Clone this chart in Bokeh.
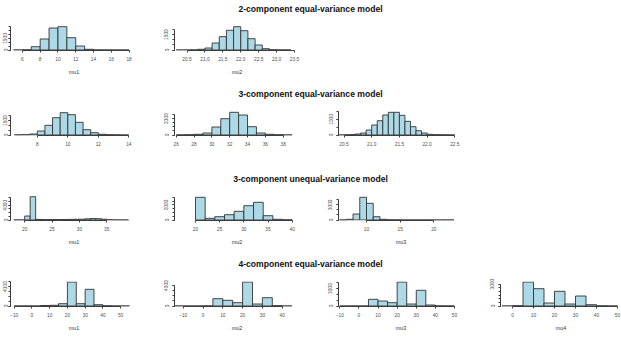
from bokeh.plotting import figure
from bokeh.models import FixedTicker, Label, Spacer, Range1d, PrintfTickFormatter
from bokeh.layouts import column, row
from bokeh.embed import file_html
from bokeh.resources import INLINE

# ---------------- data (bin edges and counts) ----------------
titles = ["2-component equal-variance model", "3-component equal-variance model",
          "3-component unequal-variance model", "4-component equal-variance model"]

r1_mu1_breaks = [5, 6, 7, 8, 9, 10, 11, 12, 13, 14, 15, 16, 17, 18]
r1_mu1_counts = [0, 26, 430, 1430, 2860, 3030, 1600, 520, 91, 13, 0, 0, 0]
r1_mu2_breaks = [20.2, 20.4, 20.6, 20.8, 21.0, 21.2, 21.4, 21.6, 21.8, 22.0, 22.2, 22.4, 22.6,
                 22.8, 23.0, 23.2, 23.4]
r1_mu2_counts = [0, 0, 10, 68, 194, 679, 1290, 1911, 2260, 1872, 1096, 485, 126, 29, 5, 0]

r2_mu1_breaks = [6.5, 7, 7.5, 8, 8.5, 9, 9.5, 10, 10.5, 11, 11.5, 12, 12.5, 13, 13.5, 14]
r2_mu1_counts = [10, 31, 104, 416, 1009, 1799, 2319, 2111, 1321, 551, 239, 73, 31, 10, 0]
r2_mu2_breaks = [26, 27, 28, 29, 30, 31, 32, 33, 34, 35, 36, 37, 38, 39]
r2_mu2_counts = [12, 37, 86, 246, 984, 2005, 2792, 2460, 1021, 246, 86, 25, 6]
r2_mu3_breaks = [20.4, 20.5, 20.6, 20.7, 20.8, 20.9, 21.0, 21.1, 21.2, 21.3, 21.4, 21.5, 21.6,
                 21.7, 21.8, 21.9, 22.0, 22.1, 22.2, 22.3, 22.4, 22.5]
r2_mu3_counts = [0, 13, 26, 64, 128, 320, 640, 915, 1280, 1453, 1453, 1261, 877, 531, 275, 128,
                 45, 19, 13, 6, 0]

r3_mu1_breaks = [18, 19, 20, 21, 22, 23, 24, 25, 26, 27, 28, 29, 30, 31, 32, 33, 34, 35, 36, 37,
                 38, 39]
r3_mu1_counts = [0, 27, 1080, 6291, 162, 108, 108, 108, 108, 135, 162, 189, 216, 324, 405, 351,
                 216, 81, 27, 0, 0]
r3_mu2_breaks = [20, 22, 24, 26, 28, 30, 32, 34, 36, 38, 40]
r3_mu2_counts = [3019, 226, 439, 705, 1157, 1902, 2354, 572, 93, 27]
r3_mu3_breaks = [6, 7, 8, 9, 10, 11, 12, 13, 14, 15, 16, 17, 18, 19, 20, 21, 22, 23]
r3_mu3_counts = [0, 139, 1188, 4495, 3307, 653, 139, 40, 20, 0, 0, 0, 0, 0, 0, 0, 0]

r4_mu1_breaks = [-10, -5, 0, 5, 10, 15, 20, 25, 30, 35, 40, 45, 50, 55]
r4_mu1_counts = [0, 0, 0, 104, 146, 478, 4992, 478, 3474, 270, 42, 0, 0]
r4_mu2_breaks = [-15, -10, -5, 0, 5, 10, 15, 20, 25, 30, 35, 40, 45]
r4_mu2_counts = [0, 0, 0, 20, 1431, 1117, 647, 4704, 392, 1627, 59, 0]
r4_mu3_breaks = [-10, -5, 0, 5, 10, 15, 20, 25, 30, 35, 40, 45, 50]
r4_mu3_counts = [0, 0, 0, 1159, 865, 571, 4152, 346, 2716, 173, 17, 0]
r4_mu4_breaks = [-5, 0, 5, 10, 15, 20, 25, 30, 35, 40, 45, 50]
r4_mu4_counts = [0, 41, 3288, 2370, 411, 2014, 274, 1370, 178, 27, 0]

# x tick values per panel
r1_mu1_xt = [6, 8, 10, 12, 14, 16, 18]
r1_mu2_xt = [20.5, 21.0, 21.5, 22.0, 22.5, 23.0, 23.5]
r2_mu1_xt = [8, 10, 12, 14]
r2_mu2_xt = [26, 28, 30, 32, 34, 36, 38]
r2_mu3_xt = [20.5, 21.0, 21.5, 22.0, 22.5]
r3_mu1_xt = [20, 25, 30, 35]
r3_mu2_xt = [20, 25, 30, 35, 40]
r3_mu3_xt = [10, 15, 20]
r4_mu1_xt = [-10, 0, 10, 20, 30, 40, 50]
r4_mu2_xt = [-10, 0, 10, 20, 30, 40]
r4_mu3_xt = [-10, 0, 10, 20, 30, 40, 50]
r4_mu4_xt = [0, 10, 20, 30, 40, 50]

# y ticks (all tick marks) and labelled y ticks per panel
r1_mu1_yt, r1_mu1_yl = [0, 500, 1000, 1500, 2000, 2500, 3000], [0, 1500]
r1_mu2_yt, r1_mu2_yl = [0, 500, 1000, 1500, 2000], [0, 1500]
r2_mu1_yt, r2_mu1_yl = [0, 500, 1000, 1500, 2000], [0, 1500]
r2_mu2_yt, r2_mu2_yl = [0, 500, 1000, 1500, 2000, 2500], [0, 2000]
r2_mu3_yt, r2_mu3_yl = [0, 500, 1000, 1500], [0, 1000]
r3_mu1_yt, r3_mu1_yl = [0, 1000, 2000, 3000, 4000, 5000, 6000], [0, 4000]
r3_mu2_yt, r3_mu2_yl = [0, 500, 1000, 1500, 2000, 2500, 3000], [0, 2000]
r3_mu3_yt, r3_mu3_yl = [0, 1000, 2000, 3000, 4000], [0, 3000]
r4_mu1_yt, r4_mu1_yl = [0, 1000, 2000, 3000, 4000, 5000], [0, 4000]
r4_mu2_yt, r4_mu2_yl = [0, 1000, 2000, 3000, 4000], [0, 4000]
r4_mu3_yt, r4_mu3_yl = [0, 1000, 2000, 3000, 4000], [0, 3000]
r4_mu4_yt, r4_mu4_yl = [0, 500, 1000, 1500, 2000, 2500, 3000], [0, 3000]

# ---------------- layout / style (screen geometry) ----------------
TOTAL_W = 621
FONT = "Liberation Sans"
FILL = "#ADD8E6"
EDGE = "#333333"
AX = "#3c3c3c"
COLS = {1: dict(w=160, bl=9, fw=128, so=1),
        2: dict(w=162, bl=14, fw=125, so=4),
        3: dict(w=162, bl=16, fw=125, so=4),
        4: dict(w=137, bl=16, fw=121, so=4)}
COL_X0 = {1: 0, 2: 160, 3: 322, 4: 484}     # figure left edge on the page
FRAME_H = 25


def frame_left(c):
    return COL_X0[c] + COLS[c]["bl"]


def panel(breaks, counts, xt, yt, yl, xlabel, col, anchor, cpp, fmt=None, top=9, h=69):
    c = COLS[col]
    (a, pa), (b, pb) = anchor
    k = (pb - pa) / (b - a)
    x0 = a - (pa - frame_left(col)) / k
    x1 = x0 + c["fw"] / k
    p = figure(width=c["w"], height=h, output_backend="svg", toolbar_location=None, title=None,
               x_range=Range1d(x0, x1), y_range=Range1d(-0.5 * cpp, (FRAME_H - 0.5) * cpp),
               min_border_left=c["bl"], min_border_right=c["w"] - c["bl"] - c["fw"],
               min_border_top=top, min_border_bottom=h - top - FRAME_H)
    p.outline_line_color = None
    p.grid.visible = False
    p.background_fill_color = "white"
    p.border_fill_color = None
    p.quad(left=breaks[:-1], right=breaks[1:], bottom=0, top=counts,
           fill_color=FILL, line_color=EDGE, line_width=0.9)
    for ax in (p.xaxis[0], p.yaxis[0]):
        ax.axis_line_color = AX
        ax.major_tick_line_color = AX
        ax.minor_tick_line_color = AX
        ax.major_tick_out = 2
        ax.major_tick_in = 0
        ax.minor_tick_out = 2
        ax.minor_tick_in = 0
        ax.major_label_text_font = FONT
        ax.major_label_text_font_size = "4.8px"
        ax.major_label_text_color = "#505050"
        ax.major_label_standoff = 4
    xa = p.xaxis[0]
    xa.ticker = FixedTicker(ticks=xt, minor_ticks=[])
    xa.bounds = (xt[0], xt[-1])
    if fmt:
        xa.formatter = PrintfTickFormatter(format=fmt)
    xa.axis_label = xlabel
    xa.axis_label_text_font = FONT
    xa.axis_label_text_font_size = "5.4px"
    xa.axis_label_text_font_style = "normal"
    xa.axis_label_text_color = "#333333"
    xa.axis_label_standoff = 5
    ya = p.yaxis[0]
    # labelled ticks are major ticks; the unlabelled tick marks are drawn as (equal length) minor ticks
    ya.ticker = FixedTicker(ticks=yl, minor_ticks=yt)
    ya.bounds = (yt[0], yt[-1])
    ya.major_label_orientation = "vertical"
    ya.major_label_standoff = c["so"]
    return p


def title_fig(text, h=16):
    p = figure(width=TOTAL_W, height=h, output_backend="svg", toolbar_location=None, title=None,
               x_range=Range1d(0, TOTAL_W), y_range=Range1d(0, h),
               x_axis_location=None, y_axis_location=None,
               min_border_left=0, min_border_right=0, min_border_top=0, min_border_bottom=0)
    p.outline_line_color = None
    p.grid.visible = False
    p.border_fill_color = None
    p.add_layout(Label(x=310, y=h / 2, text=text, text_align="center", text_baseline="middle",
                       text_font=FONT, text_font_size="8.6px", text_font_style="bold", text_color="#111111"))
    return p


row1 = row(
    panel(r1_mu1_breaks, r1_mu1_counts, r1_mu1_xt, r1_mu1_yt, r1_mu1_yl, "mu1", 1, ((6, 21), (18, 128.5)), 130),
    panel(r1_mu2_breaks, r1_mu2_counts, r1_mu2_xt, r1_mu2_yt, r1_mu2_yl, "mu2", 2, ((20.5, 186.5), (23.5, 294)), 97, fmt="%.1f"),
    Spacer(width=TOTAL_W - 322, height=69))
row2 = row(
    panel(r2_mu1_breaks, r2_mu1_counts, r2_mu1_xt, r2_mu1_yt, r2_mu1_yl, "", 1, ((8, 36), (14, 128.3)), 104),
    panel(r2_mu2_breaks, r2_mu2_counts, r2_mu2_xt, r2_mu2_yt, r2_mu2_yl, "", 2, ((26, 175.7), (38, 282.7)), 123),
    panel(r2_mu3_breaks, r2_mu3_counts, r2_mu3_xt, r2_mu3_yt, r2_mu3_yl, "", 3, ((20.5, 343.5), (22.5, 454.3)), 64, fmt="%.1f"),
    Spacer(width=TOTAL_W - 484, height=69))
row3 = row(
    panel(r3_mu1_breaks, r3_mu1_counts, r3_mu1_xt, r3_mu1_yt, r3_mu1_yl, "mu1", 1, ((20, 23.3), (35, 106)), 270),
    panel(r3_mu2_breaks, r3_mu2_counts, r3_mu2_xt, r3_mu2_yt, r3_mu2_yl, "mu2", 2, ((20, 195), (40, 291.7)), 133),
    panel(r3_mu3_breaks, r3_mu3_counts, r3_mu3_xt, r3_mu3_yt, r3_mu3_yl, "mu3", 3, ((10, 366), (20, 433.3)), 198),
    Spacer(width=TOTAL_W - 484, height=69))
row4 = row(
    panel(r4_mu1_breaks, r4_mu1_counts, r4_mu1_xt, r4_mu1_yt, r4_mu1_yl, "mu1", 1, ((-10, 12.7), (50, 120)), 208, top=10, h=67),
    panel(r4_mu2_breaks, r4_mu2_counts, r4_mu2_xt, r4_mu2_yt, r4_mu2_yl, "mu2", 2, ((-10, 182.7), (40, 281.7)), 196, top=10, h=67),
    panel(r4_mu3_breaks, r4_mu3_counts, r4_mu3_xt, r4_mu3_yt, r4_mu3_yl, "mu3", 3, ((-10, 339.3), (50, 454)), 173, top=10, h=67),
    panel(r4_mu4_breaks, r4_mu4_counts, r4_mu4_xt, r4_mu4_yt, r4_mu4_yl, "mu4", 4, ((0, 512), (50, 617)), 137, top=10, h=67))

root = column(title_fig(titles[0]), row1, title_fig(titles[1]), row2,
              title_fig(titles[2]), row3, title_fig(titles[3]), row4)

open("out.html", "w").write(file_html(root, INLINE))
